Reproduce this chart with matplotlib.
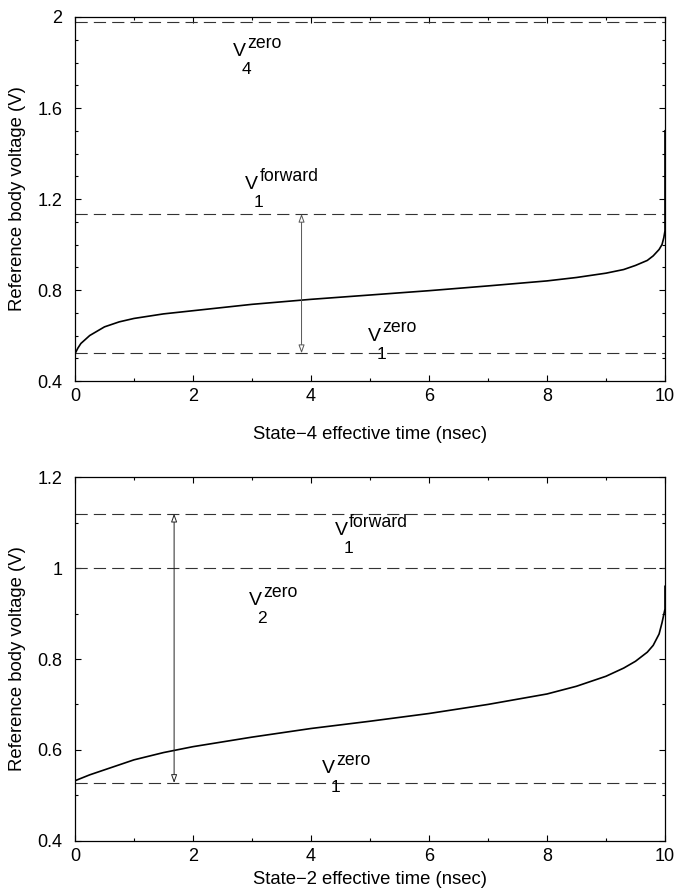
import matplotlib
matplotlib.use("Agg")
import matplotlib.pyplot as plt
from matplotlib.ticker import MultipleLocator

plt.rcParams['font.family'] = ['Liberation Sans', 'DejaVu Sans']

# --- data ---
# top panel: state-4
t4 = [0, 0.05, 0.1, 0.25, 0.5, 0.75, 1, 1.5, 2, 3, 4, 5, 6, 7, 8, 8.5,
      9, 9.3, 9.5, 9.7, 9.8, 9.9, 9.95, 9.98, 10, 10]
v4 = [0.52, 0.545, 0.565, 0.60, 0.638, 0.66, 0.675, 0.695, 0.709, 0.737,
      0.759, 0.778, 0.797, 0.818, 0.840, 0.855, 0.874, 0.89, 0.908, 0.93,
      0.95, 0.978, 1.0, 1.03, 1.06, 1.5]
top_levels = [1.978, 1.135, 0.522]
top_arrow_x = 3.84
top_arrow_span = (0.522, 1.135)
top_labels = [("zero", "4", 2.68, 1.83),
              ("forward", "1", 2.88, 1.245),
              ("zero", "1", 4.97, 0.578)]

# bottom panel: state-2
t2 = [0, 0.25, 0.5, 1, 1.5, 2, 3, 4, 5, 6, 7, 8, 8.5, 9, 9.3, 9.5, 9.7,
      9.8, 9.9, 9.95, 10, 10]
v2 = [0.532, 0.545, 0.556, 0.578, 0.594, 0.607, 0.628, 0.647, 0.663, 0.680,
      0.700, 0.723, 0.740, 0.762, 0.78, 0.795, 0.815, 0.83, 0.855, 0.88,
      0.91, 0.96]
bot_levels = [1.12, 1.0, 0.527]
bot_arrow_x = 1.68
bot_arrow_span = (0.527, 1.12)
bot_labels = [("forward", "1", 4.40, 1.073),
              ("zero", "2", 2.94, 0.919),
              ("zero", "1", 4.18, 0.548)]

fig = plt.figure(figsize=(6.78, 8.9), dpi=100)
ax1 = fig.add_axes([0.1106, 0.5719, 0.8702, 0.409])
ax2 = fig.add_axes([0.1106, 0.0554, 0.8702, 0.4083])


def vlabel(ax, sup, sub, x, y):
    ax.text(x, y, "V", fontsize=14, ha="left", va="baseline")
    ax.annotate(sup, (x, y), xytext=(10.4, 5.8), textcoords="offset points",
                fontsize=12.7, ha="left", va="baseline")
    ax.annotate(sub, (x, y), xytext=(6.2, -13.2), textcoords="offset points",
                fontsize=12.5, ha="left", va="baseline")


def style(ax, ymin, ymax, ymajor):
    ax.set_xlim(0, 10)
    ax.set_ylim(ymin, ymax)
    ax.xaxis.set_major_locator(MultipleLocator(2))
    ax.xaxis.set_minor_locator(MultipleLocator(1))
    ax.yaxis.set_major_locator(MultipleLocator(ymajor))
    ax.yaxis.set_minor_locator(MultipleLocator(0.1))
    ax.yaxis.set_major_formatter(plt.FuncFormatter(lambda v, p: f"{v:g}"))
    ax.tick_params(which="both", direction="in", top=True, right=True,
                   labelsize=13, width=0.8)
    ax.tick_params(which="major", length=4.5)
    ax.tick_params(which="minor", length=2.4)
    ax.tick_params(axis="x", which="major", pad=5)
    ax.tick_params(axis="y", which="major", pad=9)
    for s in ax.spines.values():
        s.set_linewidth(0.9)


for ax, t, v, levels, ax_x, span, labels in [
        (ax1, t4, v4, top_levels, top_arrow_x, top_arrow_span, top_labels),
        (ax2, t2, v2, bot_levels, bot_arrow_x, bot_arrow_span, bot_labels)]:
    for lv in levels:
        ax.axhline(lv, color="#333333", lw=0.8, dashes=(11, 5.5))
    ax.plot(t, v, color="black", lw=1.2)
    ax.annotate("", xy=(ax_x, span[1]), xytext=(ax_x, span[0]),
                arrowprops=dict(arrowstyle="<|-|>,head_length=0.5,head_width=0.18",
                                color="#555555" if ax is ax1 else "#222222",
                                lw=0.7, fc="white", shrinkA=0, shrinkB=0))
    for sup, sub, x, y in labels:
        vlabel(ax, sup, sub, x, y)

style(ax1, 0.4, 2.0, 0.4)
style(ax2, 0.4, 1.2, 0.2)

ax1.set_xlabel("State\u22124 effective time (nsec)", fontsize=13.3, va="center")
ax1.xaxis.set_label_coords(0.5, -0.148)
ax2.set_xlabel("State\u22122 effective time (nsec)", fontsize=13.3, va="center")
ax2.xaxis.set_label_coords(0.5, -0.108)
for ax in (ax1, ax2):
    ax.set_ylabel("Reference body voltage (V)", fontsize=13.3, va="center")
    ax.yaxis.set_label_coords(-0.0966, 0.5)

fig.savefig("out.png", dpi=100)
